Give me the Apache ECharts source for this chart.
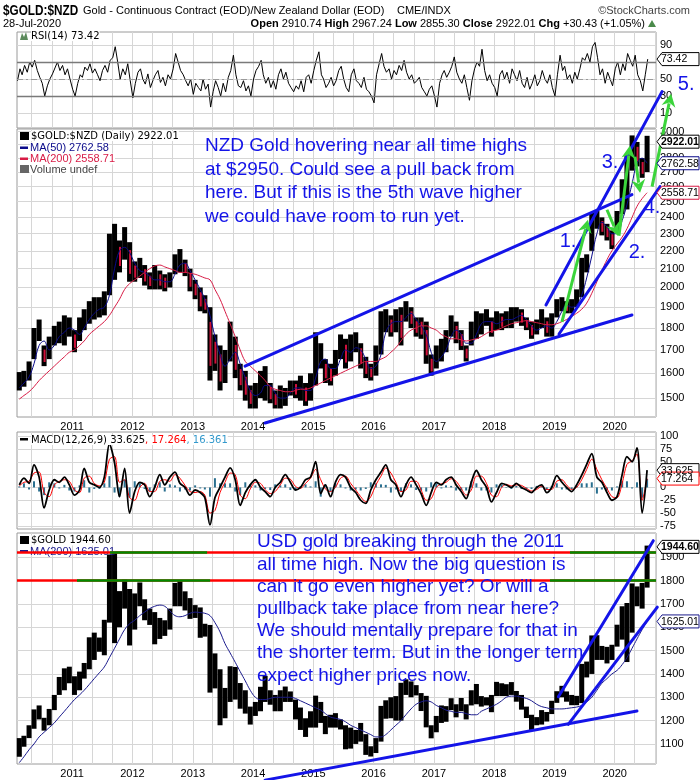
<!DOCTYPE html>
<html><head><meta charset="utf-8">
<script src="https://cdn.jsdelivr.net/npm/echarts@6.0.0/dist/echarts.min.js"></script>
<style>html,body{margin:0;padding:0;background:#fff}#c{width:700px;height:780px}</style>
</head><body><div id="c"></div>
<script>
// ---------- DATA (monthly, Feb 2010 .. Jul 2020) ----------
const startYear = 2010, startMonth = 1; // Feb 2010 (0-based month)
const nzdLow = [
 1530,1545,1570,1660,1740,1630,1660,1720,1730,1720,1760,
 1690,1740,1790,1820,1840,1850,1860,1960,2040,2080,2150,2030,
 2030,2050,2010,1990,1990,1990,1980,2000,2070,2080,2060,1980,
 1940,1880,1870,1570,1610,1530,1560,1650,1580,1530,1490,1460,
 1460,1500,1490,1480,1460,1460,1470,1510,1500,1490,1470,1490,
 1550,1620,1560,1550,1590,1660,1620,1650,1690,1620,1580,1570,
 1590,1680,1780,1760,1780,1720,1830,1800,1760,1750,1640,1590,
 1620,1650,1690,1760,1730,1700,1650,1720,1750,1770,1810,1760,
 1790,1790,1800,1800,1830,1810,1790,1750,1770,1800,1760,1760,
 1850,1880,1870,1870,1900,1950,2080,2200,2330,2290,2260,2210,
 2310,2420,2450,2710,2740,2660,2700];
const nzdHigh = [
 1605,1610,1650,1800,1840,1720,1760,1810,1830,1860,1850,
 1790,1850,1890,1930,1950,1950,1980,2300,2360,2260,2340,2250,
 2140,2160,2120,2080,2120,2090,2070,2080,2180,2210,2150,2100,
 2040,2000,1960,1900,1770,1720,1700,1830,1760,1640,1610,1550,
 1560,1610,1630,1560,1530,1550,1540,1570,1570,1590,1560,1600,
 1780,1730,1660,1640,1700,1770,1750,1770,1780,1730,1670,1640,
 1720,1880,1890,1860,1890,1900,1930,1900,1850,1850,1830,1680,
 1720,1750,1790,1860,1830,1790,1720,1830,1880,1870,1890,1850,
 1880,1870,1880,1900,1900,1890,1850,1830,1840,1890,1850,1870,
 1940,1950,1930,1940,1990,2160,2180,2430,2440,2400,2360,2320,
 2440,2650,2830,2970,2920,2800,2967];
const nzdMA50 = [
 1540,1560,1585,1640,1720,1740,1700,1720,1760,1780,1800,
 1790,1770,1800,1840,1870,1890,1900,1960,2100,2200,2220,2190,
 2130,2090,2080,2060,2040,2040,2030,2030,2070,2120,2130,2090,
 2040,1990,1940,1860,1760,1680,1630,1660,1690,1640,1580,1530,
 1510,1520,1550,1550,1520,1500,1500,1520,1540,1540,1530,1530,
 1580,1650,1660,1620,1620,1660,1700,1690,1710,1700,1660,1620,
 1630,1680,1780,1820,1830,1830,1850,1870,1840,1810,1770,1690,
 1650,1670,1700,1760,1790,1770,1730,1730,1770,1820,1830,1830,
 1820,1830,1840,1840,1850,1860,1840,1810,1790,1800,1810,1800,
 1830,1880,1910,1900,1910,1960,2050,2170,2300,2370,2340,2300,
 2300,2380,2480,2620,2760,2800,2762.58];
const nzdMA200 = [
 1496,1510,1525,1545,1570,1590,1610,1630,1650,1670,1690,
 1700,1720,1740,1770,1790,1810,1830,1860,1900,1940,1990,2020,
 2040,2060,2080,2100,2115,2120,2110,2100,2090,2080,2080,2075,
 2070,2060,2050,2040,1990,1940,1880,1820,1760,1700,1650,1630,
 1610,1590,1570,1545,1535,1530,1525,1525,1530,1535,1535,1540,
 1550,1560,1570,1580,1590,1600,1610,1620,1630,1640,1650,1650,
 1650,1660,1670,1690,1710,1740,1770,1790,1800,1810,1810,1800,
 1790,1770,1760,1750,1750,1745,1740,1745,1750,1760,1775,1785,
 1790,1800,1810,1820,1825,1830,1835,1830,1825,1820,1815,1815,
 1820,1830,1840,1855,1870,1890,1920,1970,2030,2090,2150,2200,
 2240,2280,2330,2400,2470,2520,2558.71];
const usdLow = [
 1045,1088,1125,1165,1205,1157,1180,1245,1310,1330,1360,
 1310,1330,1380,1420,1460,1495,1480,1620,1532,1600,1680,1522,
 1590,1690,1630,1610,1527,1550,1563,1590,1690,1690,1672,1636,
 1640,1555,1560,1320,1338,1180,1210,1280,1290,1251,1230,1183,
 1220,1240,1280,1268,1240,1240,1280,1280,1205,1160,1130,1170,
 1170,1190,1142,1170,1170,1162,1077,1080,1100,1110,1053,1046,
 1061,1110,1208,1210,1200,1200,1310,1300,1308,1241,1171,1124,
 1150,1190,1195,1245,1214,1240,1205,1265,1270,1260,1265,1236,
 1305,1305,1305,1310,1281,1247,1211,1160,1180,1183,1196,1228,
 1276,1300,1281,1266,1266,1275,1385,1400,1460,1460,1445,1460,
 1517,1547,1451,1577,1690,1680,1770];
const usdHigh = [
 1125,1135,1180,1248,1265,1212,1250,1310,1387,1424,1431,
 1390,1410,1447,1557,1577,1556,1632,1912,1920,1755,1804,1764,
 1745,1792,1720,1680,1665,1640,1630,1680,1790,1798,1754,1725,
 1695,1685,1615,1610,1488,1420,1340,1433,1430,1361,1330,1260,
 1280,1345,1392,1330,1310,1330,1346,1325,1290,1256,1210,1240,
 1307,1280,1220,1225,1232,1205,1180,1170,1160,1190,1142,1090,
 1125,1263,1287,1300,1305,1362,1377,1368,1352,1318,1306,1180,
 1220,1265,1262,1296,1270,1297,1270,1330,1357,1305,1300,1310,
 1366,1360,1356,1365,1327,1310,1260,1225,1215,1245,1237,1285,
 1326,1349,1325,1310,1306,1443,1453,1565,1566,1520,1516,1525,
 1611,1690,1704,1788,1775,1790,1950];
const usdMA200 = [
 1020,1045,1075,1100,1130,1150,1170,1190,1215,1240,1265,
 1290,1310,1330,1355,1380,1405,1430,1470,1510,1550,1590,1615,
 1630,1650,1665,1680,1690,1695,1690,1670,1650,1645,1650,1660,
 1665,1663,1660,1650,1620,1580,1530,1490,1450,1410,1370,1330,
 1300,1290,1290,1295,1300,1300,1300,1300,1295,1285,1275,1265,
 1255,1245,1230,1215,1210,1205,1195,1180,1170,1160,1150,1140,
 1130,1130,1140,1160,1180,1200,1225,1250,1270,1280,1285,1280,
 1265,1255,1245,1240,1235,1235,1230,1225,1225,1240,1250,1260,
 1270,1285,1300,1305,1305,1300,1295,1285,1270,1260,1255,1250,
 1250,1250,1252,1255,1258,1265,1280,1300,1330,1360,1380,1400,
 1415,1440,1470,1510,1550,1590,1625.01];
const macdLine = [
 5,18,8,44,20,-40,-5,15,10,20,5,
 -15,-5,37,10,5,0,20,85,48,-18,37,-50,
 -8,10,5,-18,0,25,5,20,30,8,0,-15,
 -5,-10,-20,-73,-20,0,20,38,15,-35,-10,5,
 15,0,-8,-18,0,10,25,10,-5,0,15,20,
 50,-12,5,-18,10,25,20,0,-10,-25,-31,-5,
 15,30,44,15,5,-18,5,20,5,-12,-35,-10,
 10,5,15,20,5,-8,-22,10,33,15,0,-28,
 -10,8,5,0,8,0,-5,-10,0,5,-10,0,
 23,10,0,-8,5,24,45,66,20,10,-10,-25,
 -18,25,60,50,77,-50,33.625];
const macdSignal = [
 3,10,12,28,30,-10,-18,5,12,15,12,
 -5,-10,18,22,8,3,10,55,60,10,15,-20,
 -25,0,8,-8,-8,12,15,12,25,18,4,-8,
 -10,-8,-15,-50,-45,-10,10,28,25,-15,-22,-3,
 10,8,-4,-12,-8,5,18,16,2,-2,8,18,
 35,15,-3,-8,0,18,22,8,-5,-18,-28,-18,
 5,22,38,28,10,-8,-5,12,12,-5,-25,-22,
 0,7,10,17,12,-2,-15,-5,22,22,8,-15,
 -18,0,6,3,5,4,-2,-7,-4,2,-4,-4,
 12,15,5,-4,0,15,35,55,35,15,-2,-18,
 -20,8,45,52,65,-25,17.264];
const macdHist = [
 2,8,-4,12,-8,-15,10,8,-2,5,
 -6,-8,4,14,-10,-3,-3,8,22,-10,
 -18,15,-20,12,8,-3,-8,6,10,-8,
 6,4,-8,-4,-6,4,-2,-4,-18,18,
 8,8,8,-8,-15,10,6,4,-6,-3,
 -5,6,4,6,-5,-6,2,6,2,12,
 -18,6,-8,8,6,-2,-6,-4,-6,-3,
 10,8,6,5,-10,-4,-8,8,6,-5,
 -6,-8,10,8,-2,4,3,-6,-5,-6,
 12,8,-6,-6,-10,6,6,-1,-3,3,
 -3,-3,-3,3,3,-5,3,8,-4,-4,
 -3,4,8,8,10,-12,-4,-6,-6,2,
 12,12,-2,10,-20,16.361];
// RSI(14), two readings per month
const rsiValues = [
 48,62,55,66,58,70,64,72,60,52,45,30,42,50,56,63,70,60,66,55,62,50,
 38,30,45,55,52,64,60,68,57,62,55,48,60,66,58,72,75,88,70,50,62,55,68,48,
 28,45,58,62,50,44,56,40,48,55,60,46,52,42,55,50,62,80,70,60,55,48,42,50,
 32,45,40,36,50,38,44,17,35,48,40,30,45,35,52,60,78,55,42,40,48,36,42,30,
 50,60,65,72,55,45,52,40,48,38,55,62,50,58,45,40,35,42,38,48,35,52,55,45,
 60,72,82,55,50,40,45,52,42,48,60,65,50,40,35,55,62,48,45,40,52,38,35,30,
 22,55,68,80,65,58,62,50,60,55,66,60,72,58,50,55,45,48,52,40,35,30,38,42,
 30,17,45,55,60,52,58,65,76,58,50,45,55,40,25,48,62,70,65,85,60,48,55,45,
 40,30,55,60,50,58,45,62,55,48,60,45,40,52,38,45,55,42,48,60,50,45,55,40,
 30,55,78,60,65,50,55,45,58,50,62,75,72,80,70,88,93,75,55,62,45,58,50,42,
 62,70,55,68,60,80,72,65,78,55,48,36,55,73.42];
const rsiLast = 73.42;
const nzdQuote = {open: 2910.74, high: 2967.24, low: 2855.30, close: 2922.01, chg: 30.43, chgPct: 1.05};
const usdLast = 1944.60;
const rsiTicks = [10, 30, 50, 70, 90];
const nzdTicks = [1500,1600,1700,1800,1900,2000,2100,2200,2300,2400,2500,2600,2700,2800,2900,3000];
const macdTicks = [-75,-50,-25,0,25,50,75,100];
const usdTicks = [1100,1200,1300,1400,1500,1600,1700,1800,1900];
const yearLabels = [2011,2012,2013,2014,2015,2016,2017,2018,2019,2020];
// annotations (fractional year, price)
const nzdTrendLines = [
 [[2014.199,1406],[2020.285,1862]],
 [[2013.867,1630],[2020.285,2546]],
 [[2018.859,1911],[2020.783,3328]],
 [[2019.075,1772],[2020.750,2600]]];
const nzdWaveArrows = [
 [[2019.124,1829],[2019.556,2385]],
 [[2019.871,2448],[2020.054,2288]],
 [[2020.070,2288],[2020.253,2893]],
 [[2020.336,2810],[2020.419,2559]],
 [[2020.618,2600],[2020.933,3311]]];
const waveLabels = [['1.',2019.224,2252],['2.',2020.369,2188],['3.',2019.921,2768],['4.',2020.618,2461],['5.',2021.182,3391]];
const usdTrendLines = [
 [[2014.199,945],[2020.368,1241]],
 [[2019.065,1302],[2020.638,1971]],
 [[2019.229,1184],[2020.705,1686]]];
const usdLevels = [1920, 1800];
const usdLevelGreen = [[[2011.629,2013.237],[2019.257,2020.70]], [[2011.081,2013.287],[2018.925,2020.70]]];
const nzdText = 'NZD Gold hovering near all time highs\nat $2950. Could see a pull back from\nhere. But if this is the 5th wave higher\nwe could have room to run yet.';
const usdText = 'USD gold breaking through the 2011\nall time high. Now the big question is\ncan it go even higher yet? Or will a\npullback take place from near here?\nWe should mentally prepare for that in\nthe shorter term. But in the longer term\nexpect higher prices now.';

// ---------- helpers ----------
function mdate(i, day) { return new Date(startYear, startMonth + i, day).getTime(); }
function yf(f) { const y = Math.floor(f); const a = new Date(y,0,1).getTime(), b = new Date(y+1,0,1).getTime(); return a + (f - y) * (b - a); }
const xMin = new Date(2010,1,1).getTime(), xMax = new Date(2020,8,7).getTime();
const yearTicks = yearLabels.map(y => new Date(y,0,1).getTime());
const gridTicks = [];
for (let y = 2010; y <= 2020; y++) for (const m of [0,4,8]) { const t = new Date(y,m,1).getTime(); if (t > xMin && t < xMax) gridTicks.push(t); }

const monthT = nzdLow.map((_, i) => mdate(i, 15));
function barData(lo, hi) { return lo.map((l, i) => [monthT[i], l, hi[i], (i > 0 && l + hi[i] < lo[i-1] + hi[i-1]) ? 1 : 0]); }
function lineData(arr) { return arr.map((v, i) => [monthT[i], v]); }
const rsiData = rsiValues.map((v, j) => [mdate(Math.floor(j/2), j % 2 ? 19 : 4), v]);

function barRender(upColor, downColor) {
  return function (params, api) {
    const t = api.value(0), lo = api.value(1), hi = api.value(2), down = api.value(3);
    const a = api.coord([t, hi]), b = api.coord([t, lo]);
    const w = api.coord([t + 15.2*864e5, hi])[0] - api.coord([t - 15.2*864e5, hi])[0];
    const h = Math.max(1, b[1] - a[1]);
    const ch = [{type:'rect', shape:{x:a[0]-w/2, y:a[1], width:w, height:h}, style:{fill:upColor}}];
    if (down && downColor) ch.push({type:'rect', shape:{x:a[0]-w*0.1, y:a[1]+h*0.2, width:w*0.4, height:h*0.6}, style:{fill:downColor}});
    return {type:'group', children: ch};
  };
}

const FONT = 'Liberation Sans, Arial, sans-serif';
const grids = [
  {left:17, right:44, top:32, height:96},
  {left:17, right:44, top:129, height:288},
  {left:17, right:44, top:432, height:97},
  {left:17, right:44, top:533, height:231}
].map(g => Object.assign(g, {show:true, borderColor:'#9a9a9a', borderWidth:1}));

const xAxes = [0,1,2,3].map(i => ({
  type:'value', gridIndex:i, min:xMin, max:xMax,
  axisLine:{show:false},
  axisTick:{show:false, customValues: gridTicks},
  splitLine:{show:true, lineStyle:{color:'#d6d6d6', width:1}},
  axisLabel:{show: i === 1 || i === 3, customValues: yearTicks, formatter: v => String(new Date(v).getFullYear()),
    color:'#000', fontSize:11, fontFamily:FONT, margin:4, showMinLabel:true, showMaxLabel:true}
}));
function yAx(i, type, min, max, ticks) {
  const o = {type, gridIndex:i, position:'right', min, max,
    axisLine:{show:false}, axisTick:{show:false, customValues:ticks},
    splitLine:{show:true, lineStyle:{color:'#d6d6d6'}},
    axisLabel:{customValues:ticks, formatter: v => String(Math.round(v)), color:'#000', fontSize:11, fontFamily:FONT, margin:4, showMinLabel:true, showMaxLabel:true}};
  if (type === 'log') o.logBase = 10;
  return o;
}
const yAxes = [
  yAx(0,'value',-7.6,105.3,rsiTicks),
  yAx(1,'log',1428,3020,nzdTicks),
  yAx(2,'value',-81,108,macdTicks),
  yAx(3,'value',1014,2004,usdTicks)
];

const chart = echarts.init(document.getElementById('c'), null, {width:700, height:780});
chart.setOption({
  animation:false, backgroundColor:'#fff',
  textStyle:{fontFamily:FONT},
  grid:grids, xAxis:xAxes, yAxis:yAxes,
  series:[
    {type:'line', xAxisIndex:0, yAxisIndex:0, data:rsiData, symbol:'none', lineStyle:{color:'#000', width:1},
     markLine:{silent:true, symbol:'none', label:{show:false},
       data:[{yAxis:70, lineStyle:{color:'#7a7a7a', width:1.3, type:'solid'}},
             {yAxis:30, lineStyle:{color:'#7a7a7a', width:1.3, type:'solid'}},
             {yAxis:50, lineStyle:{color:'#9a9a9a', width:1, type:[6,3,2,3]}}]}},
    {type:'custom', xAxisIndex:1, yAxisIndex:1, data:barData(nzdLow, nzdHigh), encode:{x:0, y:[1,2]}, renderItem:barRender('#000','#d0103a')},
    {type:'line', xAxisIndex:1, yAxisIndex:1, data:lineData(nzdMA50), symbol:'none', smooth:0.4, lineStyle:{color:'#0a0a8a', width:1}},
    {type:'line', xAxisIndex:1, yAxisIndex:1, data:lineData(nzdMA200), symbol:'none', smooth:0.4, lineStyle:{color:'#d81b45', width:1}},
    {type:'bar', xAxisIndex:2, yAxisIndex:2, data:lineData(macdHist), barWidth:2, itemStyle:{color:'#2a6f8f'}},
    {type:'line', xAxisIndex:2, yAxisIndex:2, data:lineData(macdSignal), symbol:'none', smooth:0.3, lineStyle:{color:'#ff0000', width:1}},
    {type:'line', xAxisIndex:2, yAxisIndex:2, data:lineData(macdLine), symbol:'none', smooth:0.3, lineStyle:{color:'#000', width:1.8}},
    {type:'custom', xAxisIndex:3, yAxisIndex:3, data:barData(usdLow, usdHigh), encode:{x:0, y:[1,2]}, renderItem:barRender('#000', null)},
    {type:'line', xAxisIndex:3, yAxisIndex:3, data:lineData(usdMA200), symbol:'none', smooth:0.4, lineStyle:{color:'#1a1a8c', width:1}}
  ]
});

// ---------- overlay: texts, annotations, value boxes ----------
const P = (g, f, v) => chart.convertToPixel({xAxisIndex:g, yAxisIndex:g}, [f < 3000 ? yf(f) : f, v]);
const G = [];
const BLUE = '#1414e8', GREEN = '#3bd43b';
function txt(x, y, text, font, fill, align, extra) {
  G.push({type:'text', x, y, z:50, style:Object.assign({text, font, fill: fill || '#000', textAlign: align || 'left', align: align || 'left', textVerticalAlign:'middle', verticalAlign:'middle'}, extra || {})});
}
txt(3, 11, '$GOLD:$NZD', 'bold 14px ' + FONT, '#000');
G[G.length-1].scaleX = 0.84;
txt(83, 11, 'Gold - Continuous Contract (EOD)/New Zealand Dollar (EOD)', '11px ' + FONT, '#000');
txt(397, 11, 'CME/INDX', '11px ' + FONT, '#000');
txt(690, 11, '\u00a9StockCharts.com', '11px ' + FONT, '#444', 'right');
txt(3, 24, '28-Jul-2020', '11px ' + FONT, '#000');
G.push({type:'text', x:645, y:24, z:50, style:{text:'{b|Open} ' + nzdQuote.open.toFixed(2) + ' {b|High} ' + nzdQuote.high.toFixed(2) + ' {b|Low} ' + nzdQuote.low.toFixed(2) + ' {b|Close} ' + nzdQuote.close.toFixed(2) + ' {b|Chg} +' + nzdQuote.chg.toFixed(2) + ' (+' + nzdQuote.chgPct.toFixed(2) + '%)',
  font:'11px ' + FONT, fill:'#000', textAlign:'right', align:'right', textVerticalAlign:'middle', verticalAlign:'middle', rich:{b:{font:'bold 11px ' + FONT, fill:'#000'}}}});
G.push({type:'polygon', z:50, shape:{points:[[648,27],[656,27],[652,20]]}, style:{fill:'#4a8a4a'}});

const LF = '10px DejaVu Sans, ' + FONT;
G.push({type:'polygon', z:50, shape:{points:[[20,40],[22,33],[24,37],[26,32],[28,40]]}, style:{fill:'#5c8a5c'}});
txt(31, 36, 'RSI(14) ' + rsiLast.toFixed(2), LF, '#000', 'left', {backgroundColor:'#fff'});
txt(31, 136, '$GOLD:$NZD (Daily) ' + nzdQuote.close.toFixed(2), LF, '#000', 'left', {backgroundColor:'#fff'});
G.push({type:'rect', z:50, shape:{x:20, y:132, width:9, height:8}, style:{fill:'#000'}});
G.push({type:'rect', z:50, shape:{x:20, y:146.5, width:8, height:2.5}, style:{fill:'#0a0a8a'}});
txt(30, 148, 'MA(50) ' + nzdMA50[nzdMA50.length-1].toFixed(2), '11px ' + FONT, '#0a0a8a', 'left', {backgroundColor:'#fff'});
G.push({type:'rect', z:50, shape:{x:20, y:157.5, width:8, height:2.5}, style:{fill:'#d81b45'}});
txt(30, 159, 'MA(200) ' + nzdMA200[nzdMA200.length-1].toFixed(2), '11px ' + FONT, '#d81b45', 'left', {backgroundColor:'#fff'});
G.push({type:'rect', z:50, shape:{x:20, y:165, width:9, height:8}, style:{fill:'#666'}});
txt(30, 169.5, 'Volume undef', '11px ' + FONT, '#444', 'left', {backgroundColor:'#fff'});
G.push({type:'rect', z:50, shape:{x:20, y:438, width:8, height:2.5}, style:{fill:'#000'}});
G.push({type:'text', x:31, y:440, z:50, style:{text:'MACD(12,26,9) ' + macdLine[macdLine.length-1].toFixed(3) + '{r|, ' + macdSignal[macdSignal.length-1].toFixed(3) + '}{t|, ' + macdHist[macdHist.length-1].toFixed(3) + '}',
  font:LF, fill:'#000', textVerticalAlign:'middle', verticalAlign:'middle', backgroundColor:'#fff', rich:{r:{fill:'#ff0000', font:LF}, t:{fill:'#3399cc', font:LF}}}});
G.push({type:'rect', z:50, shape:{x:20, y:536, width:9, height:8}, style:{fill:'#000'}});
txt(31, 540.5, '$GOLD ' + usdLast.toFixed(2), LF, '#000', 'left', {backgroundColor:'#fff'});
G.push({type:'rect', z:50, shape:{x:20, y:550, width:8, height:2.5}, style:{fill:'#1a1a8c'}});
txt(30, 551.5, 'MA(200) ' + usdMA200[usdMA200.length-1].toFixed(2), '11px ' + FONT, '#1a1a8c', 'left');

usdLevels.forEach((lv, k) => {
  const a = P(3, xMin, lv), b = P(3, xMax, lv);
  G.push({type:'line', z:60, shape:{x1:a[0], y1:a[1], x2:b[0], y2:b[1]}, style:{stroke:'#ff0000', lineWidth:2.5}});
  usdLevelGreen[k].forEach(sg => {
    const c = P(3, sg[0], lv), d = P(3, Math.min(yf(sg[1]), xMax), lv);
    G.push({type:'line', z:61, shape:{x1:c[0], y1:c[1], x2:d[0], y2:d[1]}, style:{stroke:'#008a00', lineWidth:2.5}});
  });
});
function seg(g, l, color, w) {
  const a = P(g, l[0][0], l[0][1]), b = P(g, l[1][0], l[1][1]);
  G.push({type:'line', z:70, shape:{x1:a[0], y1:a[1], x2:b[0], y2:b[1]}, style:{stroke:color, lineWidth:w, lineCap:'round'}});
}
nzdTrendLines.forEach(l => seg(1, l, BLUE, 3));
usdTrendLines.forEach(l => seg(3, l, BLUE, 3));
nzdWaveArrows.forEach(l => {
  const p1 = P(1, l[0][0], l[0][1]), p2 = P(1, l[1][0], l[1][1]);
  const dx = p2[0]-p1[0], dy = p2[1]-p1[1], L = Math.hypot(dx, dy), ux = dx/L, uy = dy/L;
  const hl = 13, hw = 7, bx = p2[0]-ux*hl, by = p2[1]-uy*hl;
  G.push({type:'line', z:75, shape:{x1:p1[0], y1:p1[1], x2:bx+ux*3, y2:by+uy*3}, style:{stroke:GREEN, lineWidth:3}});
  G.push({type:'polygon', z:75, shape:{points:[[p2[0],p2[1]],[bx-uy*hw,by+ux*hw],[bx+ux*4,by+uy*4],[bx+uy*hw,by-ux*hw]]}, style:{fill:GREEN}});
});
waveLabels.forEach(w => { const p = P(1, w[1], w[2]); txt(p[0], p[1], w[0], '20px ' + FONT, BLUE, 'center'); });
G.push({type:'text', x:205, y:134, z:80, style:{text:nzdText, font:'19px ' + FONT, fill:BLUE, lineHeight:23.7, textVerticalAlign:'top', verticalAlign:'top'}});
G.push({type:'text', x:257, y:531, z:80, style:{text:usdText, font:'19px ' + FONT, fill:BLUE, lineHeight:22.2, textVerticalAlign:'top', verticalAlign:'top'}});

function box(g, v, label, stroke, bold) {
  const p = chart.convertToPixel({xAxisIndex:g, yAxisIndex:g}, [xMax, v]); const x0 = p[0] + 1, y = p[1];
  G.push({type:'polygon', z:90, shape:{points:[[x0,y],[x0+5,y-6.5],[699,y-6.5],[699,y+6.5],[x0+5,y+6.5]]}, style:{fill:'#fff', stroke, lineWidth:1}});
  txt(x0+4, y+0.5, label, (bold ? 'bold ' : '') + '10.5px ' + FONT, '#000');
  G[G.length-1].z = 91;
}
box(0, rsiLast, rsiLast.toFixed(2), '#000', false);
box(1, nzdQuote.close, nzdQuote.close.toFixed(2), '#000', true);
box(1, nzdMA50[nzdMA50.length-1], nzdMA50[nzdMA50.length-1].toFixed(2), '#0a0a8a', false);
box(1, nzdMA200[nzdMA200.length-1], nzdMA200[nzdMA200.length-1].toFixed(2), '#d81b45', false);
box(2, macdLine[macdLine.length-1], macdLine[macdLine.length-1].toFixed(3), '#000', false);
box(2, macdSignal[macdSignal.length-1], macdSignal[macdSignal.length-1].toFixed(3), '#ff0000', false);
box(3, usdLast, usdLast.toFixed(2), '#000', true);
box(3, usdMA200[usdMA200.length-1], usdMA200[usdMA200.length-1].toFixed(2), '#1a1a8c', false);

chart.setOption({graphic: G});
</script>
</body></html>
